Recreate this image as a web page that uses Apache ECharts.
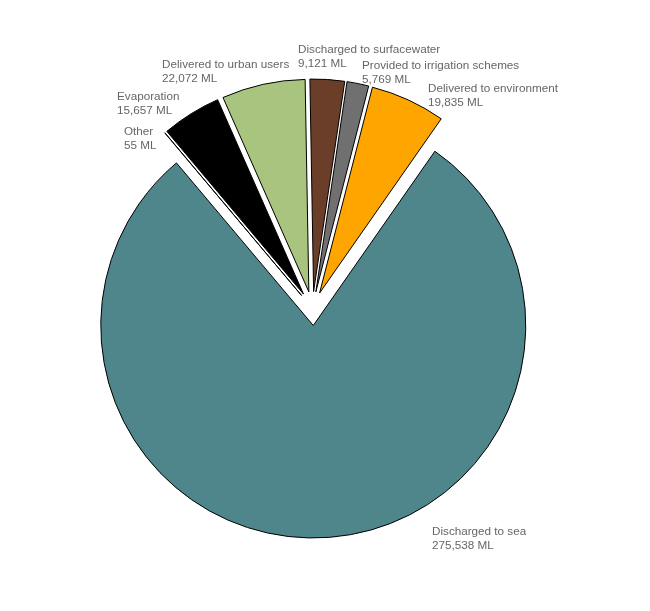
<!DOCTYPE html>
<html>
<head>
<meta charset="utf-8">
<script src="https://cdn.jsdelivr.net/npm/echarts@6/dist/echarts.min.js"></script>
<style>
  html, body { margin: 0; padding: 0; background: #fff; }
  #main { width: 650px; height: 611px; }
</style>
</head>
<body>
<div id="main"></div>
<script>
// data, clockwise from 12 o'clock
var categories = ['Discharged to surfacewater', 'Provided to irrigation schemes', 'Delivered to environment',
    'Discharged to sea', 'Other', 'Evaporation', 'Delivered to urban users'];
var volumes = [9121, 5769, 19835, 275538, 55, 15657, 22072];
var colors = ['#6b3e2a', '#707070', '#ffa500', '#4e868c', '#ffffff', '#000000', '#a9c47f'];

// where each label sits (left / top of the text block)
var labelPos = {
    'Discharged to surfacewater': [298, 43],
    'Provided to irrigation schemes': [362, 59],
    'Delivered to environment': [428, 82],
    'Discharged to sea': [432, 525],
    'Other': [124, 125],
    'Evaporation': [117, 90],
    'Delivered to urban users': [162, 58]
};

var chart = echarts.init(document.getElementById('main'));

var seriesData = categories.map(function (name, i) {
    return {
        name: name,
        value: volumes[i],
        selected: true,
        itemStyle: { color: colors[i] }
    };
});

// labels as plain text elements (pie labels can't be placed freely)
var labels = categories.map(function (name, i) {
    var pos = labelPos[name];
    return {
        type: 'text',
        x: pos[0],
        y: pos[1],
        silent: true,
        style: {
            text: name + '\n' + volumes[i].toLocaleString('en-US') + ' ML',
            font: '11.7px "Liberation Sans", Arial, sans-serif',
            lineHeight: 14,
            fill: '#666',
            align: 'left',
            verticalAlign: 'top'
        }
    };
});

chart.setOption({
    animation: false,
    graphic: labels,
    series: [{
        type: 'pie',
        center: [312.5, 308.5],
        radius: 212.5,
        startAngle: 91,
        clockwise: true,
        sort: null,
        selectedMode: 'multiple',
        selectedOffset: 17,
        itemStyle: { borderColor: '#000', borderWidth: 1 },
        label: { show: false },
        labelLine: { show: false },
        emphasis: { disabled: true },
        data: seriesData
    }]
});
</script>
</body>
</html>
